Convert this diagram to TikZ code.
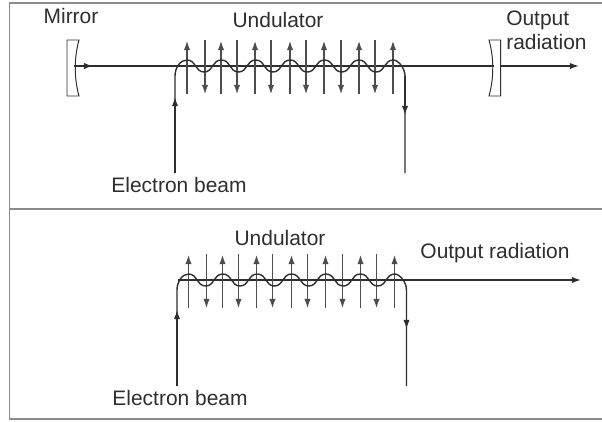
\documentclass[tikz,border=0pt]{standalone}
\usepackage{fontspec}
\setmainfont{Liberation Sans}
\usetikzlibrary{calc, arrows.meta}
\definecolor{inkgray}{HTML}{2E2E2E}
\definecolor{framegray}{HTML}{8C8C8C}
\tikzset{
  beamline/.style={draw=inkgray, line width=1pt},
  fieldline/.style={draw=inkgray!85, line width=0.75pt},
  tiparrow/.style={-{Latex[length=6.5pt,width=4.5pt]}},
  label/.style={text=inkgray, font=\fontsize{14.9}{17}\selectfont, inner sep=0pt},
  undulator/.pic={
    % field arrows
    \foreach \x in {0,34,68,103,137,172,206}
      \draw[fieldline, tiparrow] (\x,28) -- (\x,-25);
    \foreach \x in {18,50,84,119,154,188}
      \draw[fieldline, tiparrow] (\x,-26) -- (\x,28);
    % wiggle
    \foreach \x in {0,34.4,68.8,103.2,137.6,172}
      \draw[beamline] (\x,-6) .. controls (\x+9,-6) and (\x+8,6) .. (\x+17.2,6)
        .. controls (\x+26,6) and (\x+25,-6) .. (\x+34.4,-6);
    \coordinate (-in) at (0,-6);
    \coordinate (-out) at (206.4,-6);
  }
}

\begin{document}
\begin{tikzpicture}[x=0.025cm, y=-0.025cm]
  \useasboundingbox (0,0) rectangle (602,421);
  % frame
  \coordinate (TL) at (9.5,3);
  \coordinate (TR) at (602,3);
  \coordinate (ML) at (9.5,209);
  \coordinate (MR) at (602,209);
  \coordinate (BL) at (9.5,419);
  \coordinate (BR) at (602,419);
  \draw[framegray, line width=1pt] (TR) -- (TL) -- (BL) -- (BR);
  \draw[framegray, line width=1pt] (ML) -- (MR);

  % upper panel
  \node[label] (mirror) at (71,16) {Mirror};
  \node[label] (undtop) at (278,20) {Undulator};
  \node[label, align=left, anchor=west] (outtop) at (506,30) {Output\\ radiation};
  \node[label] (ebtop) at (179,185) {Electron beam};

  \coordinate (mirA) at (74,66);
  \coordinate (mirAa) at (93,66);
  \coordinate (endA) at (579,66);
  \coordinate (mirB) at (494,66);
  \coordinate (mirBb) at (501,66);
  \draw[inkgray, line width=0.7pt] (67,40) -- (79,40) .. controls (74,58) and (74,78) .. (79,96) -- (67,96) -- cycle;
  \draw[inkgray, line width=0.7pt] (500.5,40) -- (489,40) .. controls (494,58) and (494,78) .. (489,96) -- (500.5,96) -- cycle;
  \draw[beamline] (mirA) -- (mirB);
  \draw[beamline, tiparrow] (mirA) -- (mirAa);
  \draw[beamline, tiparrow] (mirBb) -- (endA);

  \pic (waveA) at (187,66) {undulator};
  \coordinate (srcA) at (175,173);
  \coordinate (srcAm) at (175,97);
  \coordinate (sinkA) at (405,173);
  \coordinate (sinkAm) at (405,115);
  \draw[beamline] (srcA) -- (175,76) .. controls (175,68) and (180,60) .. (waveA-in);
  \draw[beamline, tiparrow] (srcA) -- (srcAm);
  \draw[beamline] (waveA-out) .. controls (398,60) and (405,68) .. (405,76) -- (sinkA);
  \draw[beamline, tiparrow] (405,76) -- (sinkAm);

  % lower panel
  \node[label] (undbot) at (280,238) {Undulator};
  \node[label] (outbot) at (495,253) {Output radiation};
  \node[label] (ebbot) at (180,398) {Electron beam};

  \coordinate (startB) at (178,280);
  \coordinate (endB) at (581,280);
  \draw[beamline, tiparrow] (startB) -- (endB);

  \pic (waveB) at (188.5,280) {undulator};
  \coordinate (srcB) at (177,386);
  \coordinate (srcBm) at (177,310);
  \coordinate (sinkB) at (406.5,386);
  \coordinate (sinkBm) at (406.5,329);
  \draw[beamline] (srcB) -- (177,290) .. controls (177,282) and (182,274) .. (waveB-in);
  \draw[beamline, tiparrow] (srcB) -- (srcBm);
  \draw[beamline] (waveB-out) .. controls (399.5,274) and (406.5,282) .. (406.5,290) -- (sinkB);
  \draw[beamline, tiparrow] (406.5,290) -- (sinkBm);
\end{tikzpicture}
\end{document}
